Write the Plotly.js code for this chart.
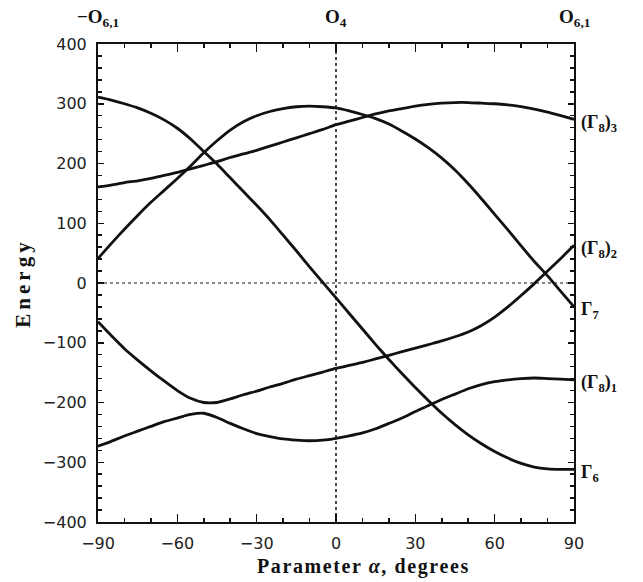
<!DOCTYPE html>
<html><head><meta charset="utf-8">
<script src="https://cdn.plot.ly/plotly-3.0.1.min.js"></script>
<style>
html,body{margin:0;padding:0;background:#fff;}
#chart{width:643px;height:582px;}
.ytitle{letter-spacing:4px;}
</style></head><body><div id="chart"></div>
<script>
// Parameter alpha, degrees
const alpha = [-90,-85,-80,-75,-70,-65,-60,-55,-50,-45,-40,-35,-30,-25,-20,-15,-10,-5,0,5,10,15,20,25,30,35,40,45,50,55,60,65,70,75,80,85,90];
// Energy levels (named by their label at alpha = 90)
const gamma6 = [311,306,300,293,284,273,259,241,220,199,176,153,130,106,80,54,27,1,-25,-51,-77,-103,-128,-152,-175,-197,-218,-237,-254,-269,-282,-293,-302,-308,-311,-312,-312];
const gamma8_3 = [161,164,168,171,175,180,185,191,197,203,210,216,222,229,236,243,250,257,265,271,277,283,288,292,296,299,301,302,302,301,300,298,295,291,286,280,274];
const gamma7 = [41,66,90,113,135,155,175,196,218,238,256,270,280,287,292,295,296,295,293,288,282,275,266,254,241,226,209,189,166,141,115,89,62,36,12,-14,-40];
const gamma8_2 = [-65,-88,-110,-129,-147,-164,-180,-193,-200,-200,-194,-187,-181,-174,-168,-161,-155,-149,-143,-138,-133,-127,-121,-115,-109,-103,-97,-90,-82,-71,-57,-40,-21,-1,20,41,63];
const gamma8_1 = [-273,-265,-256,-248,-240,-232,-226,-220,-218,-225,-235,-244,-252,-257,-261,-263,-264,-263,-260,-256,-251,-244,-235,-226,-215,-205,-195,-186,-177,-170,-165,-162,-160,-159,-160,-161,-162];

const seriesList = [gamma8_3, gamma8_2, gamma7, gamma8_1, gamma6];
const rightLabels = ['(Γ<sub>8</sub>)<sub>3</sub>', '(Γ<sub>8</sub>)<sub>2</sub>', 'Γ<sub>7</sub>', '(Γ<sub>8</sub>)<sub>1</sub>', 'Γ<sub>6</sub>'];
const topTickVals = [-90, 0, 90];
const topLabels = ['−O<sub>6,1</sub>', 'O<sub>4</sub>', 'O<sub>6,1</sub>'];
const xTitle = 'Parameter <i>α</i>, degrees';
const yTitle = 'Energy';

const serif = '"Liberation Serif", "Times New Roman", serif';
const sans = '"DejaVu Sans", "Liberation Sans", sans-serif';
const ink = '#111';

const traces = seriesList.map(s => ({
  x: alpha, y: s, type: 'scatter', mode: 'lines',
  line: {color: ink, width: 2.8, shape: 'spline', smoothing: 0.6},
  hoverinfo: 'skip'
}));

const annotations = [];
rightLabels.forEach((t, i) => {
  const s = seriesList[i];
  annotations.push({
    text: t, xref: 'paper', x: 1, xanchor: 'left', xshift: 5,
    yref: 'y', y: s[s.length - 1], yanchor: 'middle', yshift: -4,
    showarrow: false, font: {family: serif, size: 18, color: ink, weight: 'bold'}
  });
});
topLabels.forEach((t, i) => {
  annotations.push({
    text: t, xref: 'x', x: topTickVals[i], xanchor: 'center',
    yref: 'paper', y: 1, yanchor: 'bottom', yshift: 12,
    showarrow: false, font: {family: serif, size: 19, color: ink, weight: 'bold'}
  });
});
annotations.push({
  text: xTitle, xref: 'paper', x: 0.558, xanchor: 'center',
  yref: 'paper', y: 0, yanchor: 'top', yshift: -31,
  showarrow: false, font: {family: serif, size: 20, color: ink, weight: 'bold'}
});

const axisCommon = {
  showline: true, linewidth: 2, linecolor: ink, mirror: 'allticks',
  ticks: 'inside', tickwidth: 1.5, tickcolor: ink,
  showgrid: false, zeroline: false,
  tickfont: {family: sans, size: 16, color: '#222'}
};

const layout = {
  width: 643, height: 582,
  margin: {l: 98, r: 69, t: 44, b: 60},
  paper_bgcolor: '#fff', plot_bgcolor: '#fff',
  showlegend: false,
  xaxis: Object.assign({}, axisCommon, {
    range: [-90, 90], tickmode: 'linear', tick0: 0, dtick: 30, ticklen: 8,
    minor: {dtick: 10, ticklen: 4, tickwidth: 1.5, tickcolor: ink, ticks: 'inside'},
    ticklabelstandoff: 6
  }),
  yaxis: Object.assign({}, axisCommon, {
    range: [-400, 400], tickmode: 'linear', tick0: 0, dtick: 100, ticklen: 6,
    minor: {dtick: 20, ticklen: 4, tickwidth: 1.5, tickcolor: ink, ticks: 'inside'},
    ticklabelstandoff: 6,
    title: {text: yTitle, font: {family: serif, size: 21, color: ink, weight: 'bold'}, standoff: 6}
  }),
  shapes: [
    {type: 'line', xref: 'x', yref: 'paper', x0: 0, x1: 0, y0: 0, y1: 1, line: {color: ink, width: 1.5, dash: 'dot'}, layer: 'below'},
    {type: 'line', xref: 'paper', yref: 'y', x0: 0, x1: 1, y0: 0, y1: 0, line: {color: ink, width: 1, dash: 'dot'}, layer: 'below'}
  ],
  annotations: annotations
};

Plotly.newPlot('chart', traces, layout, {displayModeBar: false, staticPlot: true}).then(() => {
  document.querySelectorAll('.annotation-text').forEach(el => {
    if (el.textContent.indexOf('Parameter') === 0) el.style.letterSpacing = '1.6px';
  });
});
</script></body></html>
